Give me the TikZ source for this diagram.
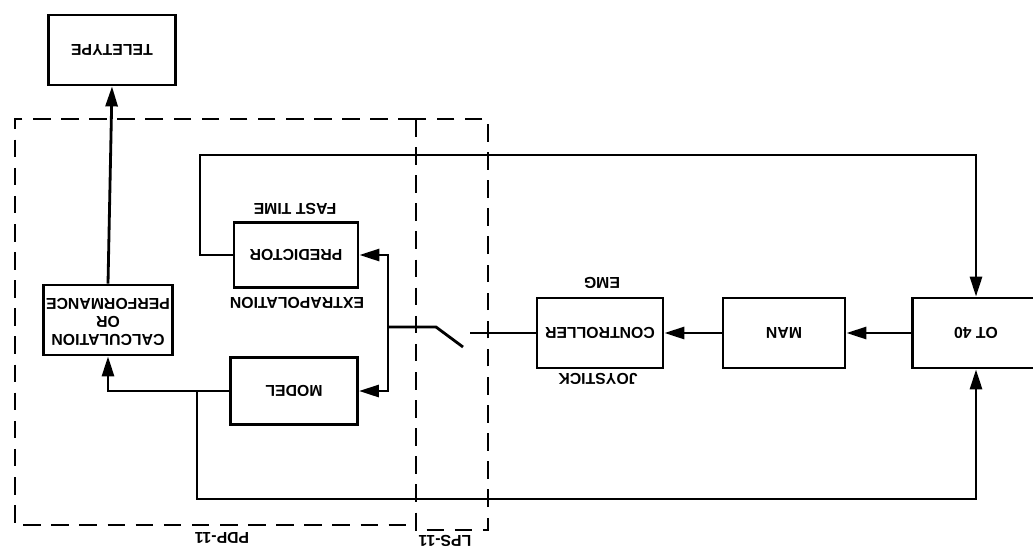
\documentclass[tikz,border=0pt]{standalone}
\usepackage{graphicx}
\usepackage{fontspec}
\setmainfont{Liberation Sans}
\usetikzlibrary{arrows.meta}

\newcommand{\ud}[1]{\rotatebox{180}{#1}}

\tikzset{
  box/.style={draw, minimum width=2.54cm, minimum height=1.4cm, inner sep=0pt},
  tag/.style={inner sep=0pt},
  zone/.style={line width=1.6pt, dash pattern=on 10pt off 6pt}
}

\begin{document}
\begin{tikzpicture}[x=0.02cm, y=-0.02cm, line width=1.6pt, >={Triangle[length=4mm,width=2.4mm]},
    font=\bfseries\fontsize{9}{10}\selectfont]
    \useasboundingbox (0,0) rectangle (1033,552);
    \clip (0,0) rectangle (1033,552);

    % computer boundaries
    \draw[zone] (416,119) -- (15,119) -- (15,525) -- (416,525);
    \draw[zone] (416,119) rectangle (488,530);
    \node[tag] (pdp) at (222,538) {\ud{PDP-11}};
    \node[tag] (lps) at (445,541) {\ud{LPS-11}};

    % blocks
    \node[box] (tele) at (112,50) {\ud{TELETYPE}};
    \node[box, minimum width=2.58cm] (calc) at (108,320)
        {\ud{\begin{tabular}{@{}c@{}}CALCULATION\\OR\\PERFORMANCE\end{tabular}}};
    \node[box, minimum width=2.48cm, minimum height=1.3cm] (pred) at (296,255) {\ud{PREDICTOR}};
    \node[box, minimum height=1.34cm] (model) at (294,391) {\ud{MODEL}};
    \node[box, minimum width=2.52cm] (ctrl) at (600,333) {\ud{CONTROLLER}};
    \node[box, minimum width=2.44cm] (man) at (784,333) {\ud{MAN}};
    \node[box] (ot) at (976,333) {\ud{OT 40}};

    \node[tag] (fast) at (295,209) {\ud{FAST TIME}};
    \node[tag] (extra) at (297,303) {\ud{EXTRAPOLATION}};
    \node[tag] (emg) at (602,283) {\ud{EMG}};
    \node[tag] (joy) at (598,379) {\ud{JOYSTICK}};

    % switch
    \coordinate (split) at (388,327);
    \coordinate (pivot) at (436,327);
    \coordinate (blade) at (463,347);
    \coordinate (contact) at (470,333);
    \coordinate (tap) at (197,391);
    \coordinate (toploop) at (200,155);
    \coordinate (botloop) at (197,499);

    % connectors
    \draw[->] (ot.west) -- (man.east);
    \draw[->] (man.west) -- (ctrl.east);
    \draw (ctrl.west) -- (contact);
    \draw (split) -- (pivot) -- (blade);
    \draw[->] (split) |- (pred.east);
    \draw[->] (split) |- (model.east);
    \draw[->] (model.west) -| (calc.south);
    \draw[->] (calc.north) -- (tele.south);
    \draw[->] (pred.west) -| (toploop) -| (ot.north);
    \draw[->] (tap) -- (botloop) -| (ot.south);
\end{tikzpicture}
\end{document}
